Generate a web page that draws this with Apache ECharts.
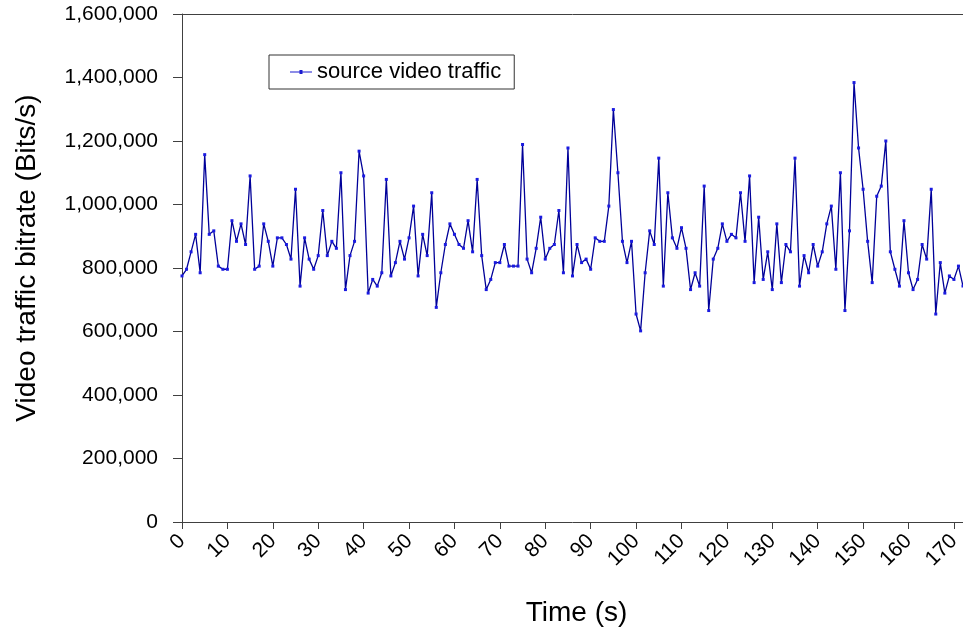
<!DOCTYPE html>
<html>
<head>
<meta charset="utf-8">
<script src="https://cdn.jsdelivr.net/npm/echarts@6/dist/echarts.min.js"></script>
<style>
  html, body { margin: 0; padding: 0; background: #fff; }
  #chart { width: 963px; height: 633px; }
</style>
</head>
<body>
<div id="chart"></div>
<script>
// Source video traffic bitrate (Bits/s), one value per second, t = 0..172
const bitrate = [
  775000, 796000, 851000, 906000, 785000, 1157000, 906000, 917000, 806000, 796000,
  796000, 949000, 884000, 939000, 874000, 1090000, 796000, 806000, 939000, 884000,
  806000, 895000, 895000, 874000, 828000, 1048000, 743000, 895000, 828000, 796000,
  839000, 981000, 839000, 884000, 862000, 1100000, 732000, 839000, 884000, 1168000,
  1090000, 721000, 764000, 743000, 785000, 1079000, 775000, 817000, 884000, 828000,
  895000, 995000, 775000, 906000, 839000, 1037000, 676000, 785000, 874000, 939000,
  906000, 874000, 862000, 949000, 851000, 1079000, 839000, 732000, 764000, 817000,
  817000, 874000, 806000, 806000, 806000, 1189000, 828000, 785000, 862000, 960000,
  828000, 862000, 874000, 981000, 785000, 1178000, 775000, 874000, 817000, 828000,
  796000, 895000, 884000, 884000, 995000, 1299000, 1100000, 884000, 817000, 884000,
  655000, 602000, 785000, 917000, 874000, 1146000, 743000, 1037000, 895000, 862000,
  927000, 862000, 732000, 785000, 743000, 1058000, 666000, 828000, 862000, 939000,
  884000, 906000, 895000, 1037000, 884000, 1090000, 754000, 960000, 764000, 851000,
  732000, 939000, 754000, 874000, 851000, 1146000, 743000, 839000, 785000, 874000,
  806000, 851000, 939000, 995000, 796000, 1100000, 666000, 917000, 1384000, 1178000,
  1048000, 884000, 754000, 1026000, 1058000, 1200000, 851000, 796000, 743000, 949000,
  785000, 732000, 764000, 874000, 828000, 1048000, 655000, 817000, 721000, 775000,
  764000, 806000, 743000
];
const times = bitrate.map((_, i) => String(i));       // category labels, seconds
const xTickStep = 10;                                 // labelled every 10 s
const yTicks = [0, 200000, 400000, 600000, 800000, 1000000, 1200000, 1400000, 1600000];
const seriesName = 'source video traffic';
const xTitle = 'Time (s)';
const yTitle = 'Video traffic bitrate (Bits/s)';

const FONT = "'Liberation Sans', Arial, sans-serif";
const chart = echarts.init(document.getElementById('chart'), null, { renderer: 'canvas' });
const showEvery = (idx) => idx % xTickStep === 0;

chart.setOption({
  animation: false,
  backgroundColor: '#ffffff',
  textStyle: { fontFamily: FONT, color: '#000' },
  grid: { left: 182, right: 0, top: 14, bottom: 111, containLabel: false, outerBoundsMode: 'none' },
  legend: {
    left: 269, top: 55,
    padding: [6, 13, 6, 21],
    backgroundColor: '#ffffff',
    borderColor: '#333333',
    borderWidth: 1,
    borderRadius: 0,
    itemWidth: 22, itemHeight: 5,
    icon: 'path://M0,2 L22,2 L22,3 L0,3 Z M9.5,0.5 L12.5,0.5 L12.5,4.5 L9.5,4.5 Z',
    itemStyle: { color: '#1a1ad0' },
    textStyle: { fontFamily: FONT, fontSize: 22, color: '#000' },
    data: [seriesName]
  },
  xAxis: [
    {
      type: 'category',
      data: times,
      boundaryGap: false,
      position: 'bottom',
      name: xTitle,
      nameLocation: 'middle',
      nameGap: 77,
      nameTextStyle: { fontFamily: FONT, fontSize: 28, color: '#000', padding: [0, 0, 0, 8] },
      axisLine: { show: true, lineStyle: { color: '#404040', width: 1 } },
      axisTick: { show: true, interval: (i) => showEvery(i), length: 7, inside: false, alignWithLabel: true, lineStyle: { color: '#404040' } },
      axisLabel: { show: true, interval: (i) => showEvery(i), rotate: 45, margin: 16, fontFamily: FONT, fontSize: 21, color: '#000' },
      splitLine: { show: false }
    },
    {
      type: 'category',
      data: times,
      boundaryGap: false,
      position: 'top',
      axisLine: { show: true, lineStyle: { color: '#404040', width: 1 } },
      axisTick: { show: false },
      axisLabel: { show: false },
      splitLine: { show: false }
    }
  ],
  yAxis: {
    type: 'value',
    min: yTicks[0],
    max: yTicks[yTicks.length - 1],
    interval: yTicks[1] - yTicks[0],
    name: yTitle,
    nameLocation: 'middle',
    nameRotate: 90,
    nameGap: 141,
    nameTextStyle: { fontFamily: FONT, fontSize: 28, color: '#000', padding: [0, 0, 0, 20] },
    axisLine: { show: true, lineStyle: { color: '#404040', width: 1 } },
    axisTick: { show: true, length: 9, inside: false, lineStyle: { color: '#404040' } },
    axisLabel: {
      margin: 24, fontFamily: FONT, fontSize: 21, color: '#000',
      formatter: (v) => v.toLocaleString('en-US')
    },
    splitLine: { show: false }
  },
  series: [
    {
      name: seriesName,
      type: 'line',
      xAxisIndex: 0,
      data: bitrate,
      symbol: 'rect',
      symbolSize: 3,
      showSymbol: true,
      showAllSymbol: true,
      lineStyle: { color: '#000099', width: 1.3 },
      itemStyle: { color: '#1a1ae0' },
      emphasis: { disabled: true }
    }
  ]
});
</script>
</body>
</html>
